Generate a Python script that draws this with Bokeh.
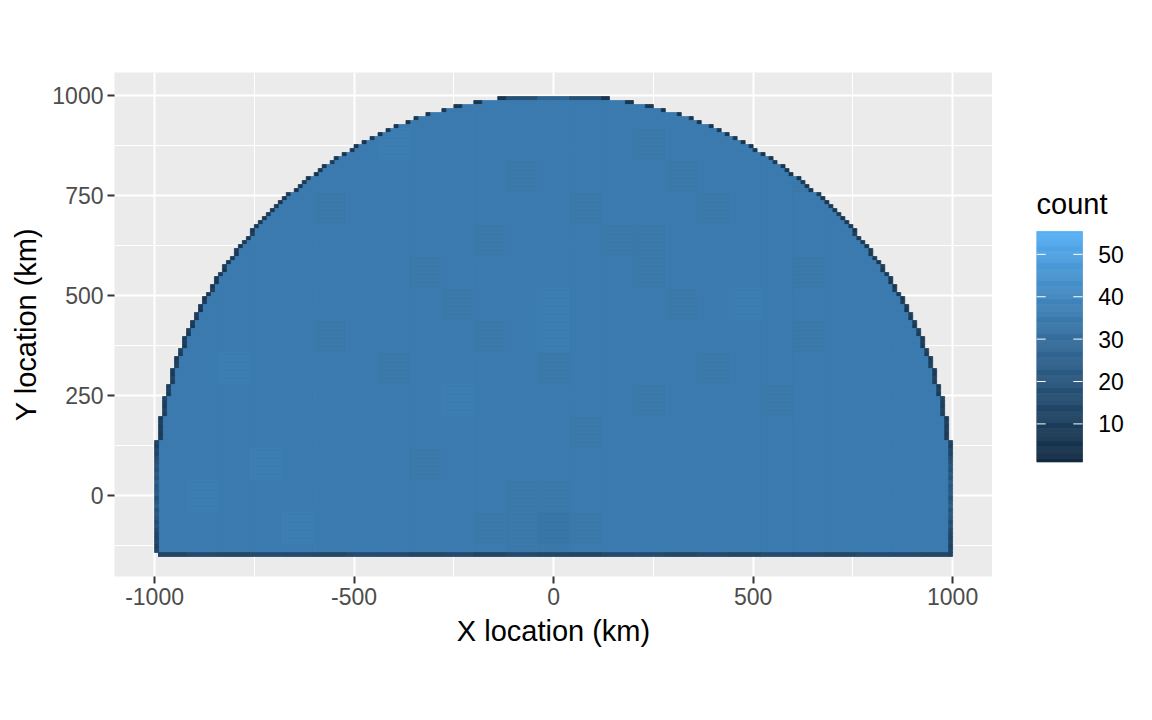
import numpy as np
from bokeh.embed import file_html
from bokeh.layouts import row
from bokeh.models import (ColumnDataSource, FixedTicker, LinearColorMapper, Label, Range1d)
from bokeh.core.properties import value
from bokeh.plotting import figure
from bokeh.resources import INLINE

# --- values -----------------------------------------------------------------
x_ticks = [-1000, -500, 0, 500, 1000]
x_minor = [-750, -250, 250, 750]
x_labels = ["-1000", "-500", "0", "500", "1000"]
y_ticks = [0, 250, 500, 750, 1000]
y_minor = [-125, 125, 375, 625, 875]
y_labels = ["0", "250", "500", "750", "1000"]
legend_ticks = [10, 20, 30, 40, 50]
legend_labels = ["10", "20", "30", "40", "50"]

# half-width (km) of the filled span of every 10 km row, top row first
row_half_width = [
    140, 200, 250, 280, 320, 350, 370, 400, 420, 440, 460, 480, 500, 510, 530, 550,
    560, 580, 590, 600, 620, 630, 640, 650, 670, 680, 690, 700, 710, 720, 730, 740,
    750, 760, 760, 770, 780, 790, 800, 800, 810, 820, 830, 830, 840, 850, 850, 860,
    860, 870, 880, 880, 890, 890, 900, 900, 910, 910, 920, 920, 930, 930, 930, 940,
    940, 950, 950, 950, 960, 960, 960, 960, 970, 970, 970, 980, 980, 980, 980, 980,
    990, 990, 990, 990, 990, 990,
    1000, 1000, 1000, 1000, 1000, 1000, 1000, 1000, 1000, 1000, 1000, 1000, 1000, 1000,
    1000, 1000, 1000, 1000, 1000, 1000, 1000, 1000, 1000, 1000, 1000, 1000, 1000, 1000, 1000]

# estimated count of the thin cells along the arc and the straight sides
rim_counts = [
    6, 6, 7, 6, 6, 7, 5, 6, 8, 6, 7, 5, 6, 8, 6, 7, 9, 6, 7, 5, 6, 8, 7, 6,
    9, 7, 6, 8, 7, 9, 6, 8, 7, 6, 10, 7, 8, 6, 9, 7, 8, 6, 10, 7, 9, 8, 6, 7,
    10, 8, 7, 9, 8, 6, 10, 8, 9, 7, 11, 8, 9, 10, 8, 12, 9, 8, 10, 11, 9, 8,
    12, 10, 9, 11, 8, 13, 10, 9, 12, 10, 8, 11, 9, 10, 8, 9,
    12, 10, 14, 12, 16, 18, 20, 18, 22, 19, 24, 20, 21, 23, 18, 21, 24, 19,
    22, 20, 16, 19, 15, 13, 12, 14, 11, 13, 12]

# cells of a row edge that stay dark, top row first (rest of the rows: 1)
rim_widths_top = [2, 2, 2, 1]

# estimated mean count of each 80 km x 80 km block, top block row first, west to east
blocks_r00 = [0, 0, 0, 0, 0, 0, 0, 35, 35, 35, 35, 35, 35, 35, 35, 35, 35, 35, 35, 0, 0, 0, 0, 0, 0]
blocks_r01 = [0, 0, 0, 0, 34, 35, 35, 36, 35, 35, 35, 35, 35, 35, 35, 34, 35, 35, 35, 35, 34, 0, 0, 0, 0]
blocks_r02 = [0, 0, 0, 35, 35, 35, 35, 35, 35, 35, 35, 34, 35, 35, 35, 35, 34, 35, 35, 35, 34, 35, 0, 0, 0]
blocks_r03 = [0, 0, 34, 35, 35, 34, 35, 35, 35, 35, 35, 35, 35, 34, 35, 35, 35, 34, 35, 35, 35, 35, 34, 0, 0]
blocks_r04 = [0, 34, 35, 35, 35, 35, 35, 35, 35, 35, 34, 35, 35, 35, 34, 34, 35, 35, 35, 35, 35, 35, 35, 34, 0]
blocks_r05 = [0, 35, 35, 35, 35, 35, 35, 35, 34, 35, 35, 35, 35, 35, 35, 34, 35, 35, 35, 35, 34, 35, 35, 35, 0]
blocks_r06 = [34, 35, 35, 35, 35, 35, 35, 35, 35, 34, 35, 35, 36, 35, 35, 35, 34, 35, 36, 35, 35, 35, 35, 35, 34]
blocks_r07 = [35, 35, 35, 35, 35, 34, 35, 35, 35, 35, 34, 35, 36, 35, 35, 35, 35, 35, 35, 35, 34, 35, 35, 35, 35]
blocks_r08 = [35, 35, 36, 35, 35, 35, 35, 34, 35, 35, 35, 35, 34, 35, 35, 35, 35, 34, 35, 35, 35, 35, 35, 35, 35]
blocks_r09 = [35, 35, 35, 35, 35, 35, 35, 35, 35, 36, 35, 35, 35, 35, 35, 34, 35, 35, 35, 34, 35, 35, 35, 35, 35]
blocks_r10 = [35, 35, 35, 35, 35, 35, 35, 35, 35, 35, 35, 35, 35, 34, 35, 35, 35, 35, 35, 35, 35, 35, 35, 35, 35]
blocks_r11 = [35, 35, 35, 36, 35, 35, 35, 35, 34, 35, 35, 35, 35, 35, 35, 35, 35, 35, 35, 35, 35, 35, 35, 35, 35]
blocks_r12 = [35, 36, 35, 35, 35, 35, 35, 35, 35, 35, 35, 34, 34, 35, 35, 35, 35, 35, 35, 35, 35, 35, 35, 35, 35]
blocks_r13 = [35, 35, 35, 35, 36, 35, 35, 35, 35, 35, 34, 34, 33, 34, 35, 35, 35, 35, 35, 35, 35, 35, 35, 35, 35]
blocks_r14 = [35, 35, 35, 35, 35, 35, 35, 35, 35, 35, 35, 34, 34, 35, 35, 35, 35, 35, 35, 35, 35, 35, 35, 35, 35]

# estimated counts of the two outer rows, by the same 80 km columns
top_row_counts = [0, 0, 0, 0, 0, 0, 0, 0, 0, 0, 8, 18, 26, 18, 8, 0, 0, 0, 0, 0, 0, 0, 0, 0, 0]
bottom_row_counts = [13, 15, 14, 16, 15, 14, 16, 15, 14, 15, 13, 15, 14, 13, 15, 16, 14, 15, 14, 16, 15, 14, 16, 15, 14]

count_low = 1
count_high = 56
# -----------------------------------------------------------------------------

blocks = [blocks_r00, blocks_r01, blocks_r02, blocks_r03, blocks_r04, blocks_r05, blocks_r06,
          blocks_r07, blocks_r08, blocks_r09, blocks_r10, blocks_r11, blocks_r12, blocks_r13,
          blocks_r14]


def lab_gradient(c0, c1, n):
    """ggplot2's default two-colour scale, interpolated in Lab."""
    def to_lab(c):
        rgb = np.array([int(c[i:i + 2], 16) / 255 for i in (1, 3, 5)])
        lin = np.where(rgb > 0.04045, ((rgb + 0.055) / 1.055) ** 2.4, rgb / 12.92)
        m = np.array([[.4124564, .3575761, .1804375], [.2126729, .7151522, .0721750],
                      [.0193339, .1191920, .9503041]])
        xyz = m @ lin / np.array([.95047, 1.0, 1.08883])
        f = np.where(xyz > 0.008856, np.cbrt(xyz), 7.787 * xyz + 16 / 116)
        return np.array([116 * f[1] - 16, 500 * (f[0] - f[1]), 200 * (f[1] - f[2])])

    def to_hex(lab):
        fy = (lab[0] + 16) / 116
        f = np.array([fy + lab[1] / 500, fy, fy - lab[2] / 200])
        xyz = np.where(f ** 3 > 0.008856, f ** 3, (f - 16 / 116) / 7.787) * np.array([.95047, 1.0, 1.08883])
        m = np.array([[3.2404542, -1.5371385, -.4985314], [-.9692660, 1.8760108, .0415560],
                      [.0556434, -.2040259, 1.0572252]])
        lin = np.clip(m @ xyz, 0, 1)
        rgb = np.where(lin > 0.0031308, 1.055 * lin ** (1 / 2.4) - 0.055, 12.92 * lin)
        return "#%02x%02x%02x" % tuple(int(round(v * 255)) for v in rgb)

    a, b = to_lab(c0), to_lab(c1)
    return [to_hex(a + (b - a) * t) for t in np.linspace(0, 1, n)]


mapper = LinearColorMapper(palette=lab_gradient("#132B43", "#56B1F7", 256), low=count_low, high=count_high)

# Split each 10 km row into spans: dark rim cells, then one span per block.
top_edge = 997.5
cell = 10
block = 80
x_west = -1000
left, right, bottom, top, counts = [], [], [], [], []


def add(x0, x1, y0, y1, c):
    left.append(x0), right.append(x1), bottom.append(y0), top.append(y1), counts.append(c)


for i, half in enumerate(row_half_width):
    y1 = top_edge - i * cell
    y0 = y1 - cell
    last = i == len(row_half_width) - 1
    values = top_row_counts if i == 0 else bottom_row_counts if last else blocks[i * cell // block]
    rim = rim_widths_top[i] if i < len(rim_widths_top) else 1
    inner = half - rim * cell
    for k, c in enumerate(values):
        x0 = max(x_west + k * block, -inner)
        x1 = min(x_west + (k + 1) * block, inner)
        if x1 > x0:
            add(x0, x1, y0, y1, c)
    add(-half + (cell if last else 0), -inner, y0, y1, rim_counts[i])
    add(inner, half, y0, y1, rim_counts[i])

src = ColumnDataSource(dict(left=left, right=right, bottom=bottom, top=top, count=counts))

FONT = "Liberation Sans"
p = figure(width=992, height=712, output_backend="svg", toolbar_location=None,
           x_range=Range1d(-1100.5, 1100), y_range=Range1d(-202.5, 1057.5),
           min_border_left=114, min_border_right=0, min_border_top=72, min_border_bottom=136,
           background_fill_color="#EBEBEB", border_fill_color="white", outline_line_color=None,
           x_axis_label="X location (km)", y_axis_label="Y location (km)")
p.quad(left="left", right="right", bottom="bottom", top="top", source=src,
       fill_color={"field": "count", "transform": mapper},
       line_color={"field": "count", "transform": mapper}, line_width=0.8)

p.xaxis.ticker = FixedTicker(ticks=x_ticks, minor_ticks=x_minor)
p.yaxis.ticker = FixedTicker(ticks=y_ticks, minor_ticks=y_minor)
p.xaxis.major_label_overrides = dict(zip(x_ticks, x_labels))
p.yaxis.major_label_overrides = dict(zip(y_ticks, y_labels))
for ax in (p.xaxis[0], p.yaxis[0]):
    ax.axis_line_color = None
    ax.major_tick_line_color = "#333333"
    ax.major_tick_line_width = 2
    ax.major_tick_in = 0
    ax.major_tick_out = 7
    ax.minor_tick_line_color = None
    ax.major_label_text_color = "#4D4D4D"
    ax.major_label_text_font = FONT
    ax.major_label_text_font_size = "23px"
    ax.major_label_standoff = 4
    ax.axis_label_text_color = "black"
    ax.axis_label_text_font = FONT
    ax.axis_label_text_font_style = "normal"
    ax.axis_label_text_font_size = "29px"
    ax.axis_label_standoff = 7
p.yaxis[0].major_label_orientation = "horizontal"
for g in (p.xgrid[0], p.ygrid[0]):
    g.grid_line_color = "white"
    g.grid_line_width = 2
    g.minor_grid_line_color = "white"
    g.minor_grid_line_width = 1

# Colour bar, drawn through the same colour mapper in a figure of its own.
bar_top = 55.4
levels = list(np.arange(count_low, bar_top, 0.25))
bar = ColumnDataSource(dict(y0=levels, y1=[min(v + 0.25, bar_top) for v in levels], count=levels))
bar_px = 46
leg_frame_px = 104
leg = figure(width=44 + leg_frame_px, height=712, output_backend="svg", toolbar_location=None,
             x_range=Range1d(0, leg_frame_px / bar_px), y_range=Range1d(-26, 92.9),
             min_border_left=44, min_border_right=0, min_border_top=72, min_border_bottom=136,
             background_fill_color=None, border_fill_color=None, outline_line_color=None,
             x_axis_location=None, y_axis_location=None)
leg.quad(left=0, right=1, bottom="y0", top="y1", source=bar,
         fill_color={"field": "count", "transform": mapper},
         line_color={"field": "count", "transform": mapper}, line_width=0.6)
leg.grid.visible = False
tick_len = 0.2
leg.segment(x0=[0] * len(legend_ticks), x1=[tick_len] * len(legend_ticks), y0=legend_ticks, y1=legend_ticks,
            line_color="white", line_width=1)
leg.segment(x0=[1 - tick_len] * len(legend_ticks), x1=[1] * len(legend_ticks), y0=legend_ticks, y1=legend_ticks,
            line_color="white", line_width=1)
leg.text(x=[1.34] * len(legend_ticks), y=legend_ticks, text=legend_labels, text_font=value(FONT),
         text_font_size="23px", text_color="black", text_baseline="middle", text_align="left")
leg.add_layout(Label(x=0, y=61.8, text="count", text_font=FONT, text_font_size="29px",
                     text_color="black", text_baseline="middle"))

open("out.html", "w").write(file_html(row(p, leg, spacing=0), INLINE))
